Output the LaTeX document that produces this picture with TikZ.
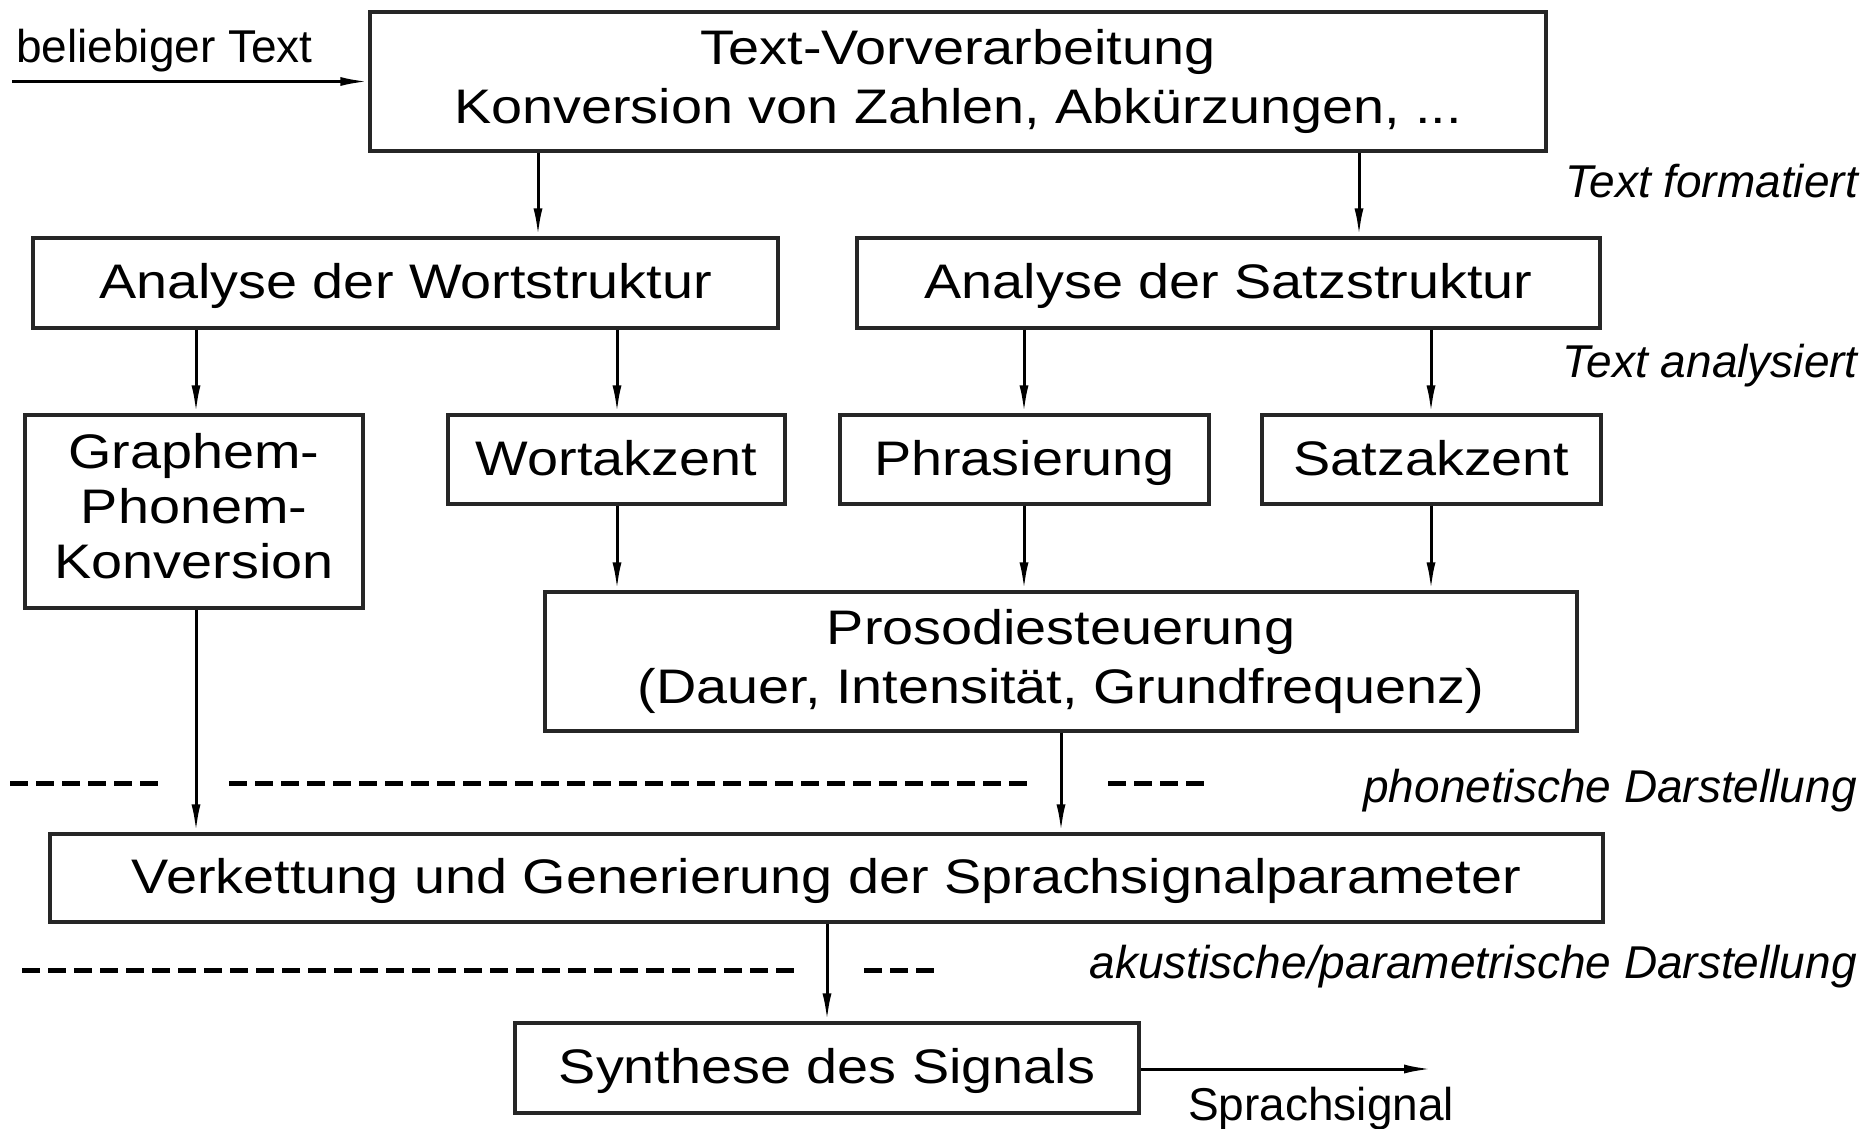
\documentclass[tikz,border=0pt]{standalone}
\usepackage{fontspec}
\setmainfont{Liberation Sans}
\newfontfamily\boxfont{Liberation Sans}[FakeStretch=1.15]
\usetikzlibrary{arrows.meta}
\tikzset{
  box/.style={draw=black!85, line width=3.2pt, fill=white, inner sep=0pt,
    font=\boxfont\fontsize{48.5}{59}\selectfont},
  onebox/.style={box, text height=40pt, text depth=9pt},
  multibox/.style={box, align=center},
  arr/.style={line width=3pt, -{Latex[length=28pt,width=9pt]}},
  lab/.style={inner sep=0pt, font=\fontsize{46}{54}\selectfont},
  ilab/.style={lab, font=\itshape\fontsize{46}{54}\selectfont},
  dsh/.style={line width=5pt, dash pattern=on 18pt off 8pt}
}
\begin{document}
\begin{tikzpicture}[x=1pt,y=-1pt]
\useasboundingbox[fill=white] (0,0) rectangle (1869,1129);

% boxes
\node[multibox, minimum width=1176pt, minimum height=139pt] (pre) at (958,81.5)
  {Text-Vorverarbeitung\\Konversion von Zahlen, Abkürzungen, ...};
\node[onebox, minimum width=745pt, minimum height=90pt] (wort) at (405.5,283) {Analyse der Wortstruktur};
\node[onebox, minimum width=743pt, minimum height=90pt] (satz) at (1228.5,283) {Analyse der Satzstruktur};
\node[multibox, minimum width=338pt, minimum height=193pt,
  font=\boxfont\fontsize{48.5}{55}\selectfont] (gp) at (194,511.5)
  {Graphem-\\Phonem-\\Konversion\\[-43pt]\mbox{}};
\node[onebox, minimum width=337pt, minimum height=89pt] (wa) at (616.5,459.5) {Wortakzent};
\node[onebox, minimum width=369pt, minimum height=89pt] (ph) at (1024.5,459.5) {Phrasierung};
\node[onebox, minimum width=339pt, minimum height=89pt] (sa) at (1431.5,459.5) {Satzakzent};
\node[multibox, minimum width=1032pt, minimum height=139pt] (pros) at (1061,661.5)
  {Prosodiesteuerung\\(Dauer, Intensität, Grundfrequenz)};
\node[onebox, minimum width=1553pt, minimum height=88pt] (verk) at (826.5,878)
  {Verkettung und Generierung der Sprachsignalparameter};
\node[onebox, minimum width=624pt, minimum height=90pt] (syn) at (827,1068) {Synthese des Signals};

% labels
\node[lab, anchor=base west] (lin) at (16,63) {beliebiger Text};
\node[ilab, anchor=base east] (lfmt) at (1858,197) {Text formatiert};
\node[ilab, anchor=base east] (lana) at (1858,377) {Text analysiert};
\node[ilab, anchor=base east] (lpho) at (1857,802) {phonetische Darstellung};
\node[ilab, anchor=base east] (laku) at (1857,978) {akustische/parametrische Darstellung};
\node[lab, anchor=base west] (lout) at (1188,1120) {Sprachsignal};

% x positions of connectors
\coordinate (xa) at (538,0);
\coordinate (xb) at (1359,0);
\coordinate (xc) at (196,0);
\coordinate (xd) at (617,0);
\coordinate (xe) at (1024,0);
\coordinate (xf) at (1431,0);
\coordinate (xg) at (1061,0);
\coordinate (xh) at (827,0);
\coordinate (inL) at (12,81.5);
\coordinate (outR) at (1432,1069);

% connectors
\draw[arr] (inL) -- (pre.west);
\draw[arr] (pre.south -| xa) -- (wort.north -| xa);
\draw[arr] (pre.south -| xb) -- (satz.north -| xb);
\draw[arr] (wort.south -| xc) -- (gp.north -| xc);
\draw[arr] (wort.south -| xd) -- (wa.north -| xd);
\draw[arr] (satz.south -| xe) -- (ph.north -| xe);
\draw[arr] (satz.south -| xf) -- (sa.north -| xf);
\draw[arr] (wa.south -| xd) -- (pros.north -| xd);
\draw[arr] (ph.south -| xe) -- (pros.north -| xe);
\draw[arr] (sa.south -| xf) -- (pros.north -| xf);
\draw[arr] (gp.south -| xc) -- (verk.north -| xc);
\draw[arr] (pros.south -| xg) -- (verk.north -| xg);
\draw[arr] (verk.south -| xh) -- (syn.north -| xh);
\draw[arr] (syn.east |- outR) -- (outR);

% dashed separators
\draw[dsh] (10,783) -- (158,783);
\draw[dsh] (229,783) -- (1027,783);
\draw[dsh] (1108,783) -- (1204,783);
\draw[dsh] (22,970) -- (794,970);
\draw[dsh] (864,970) -- (934,970);
\end{tikzpicture}
\end{document}
